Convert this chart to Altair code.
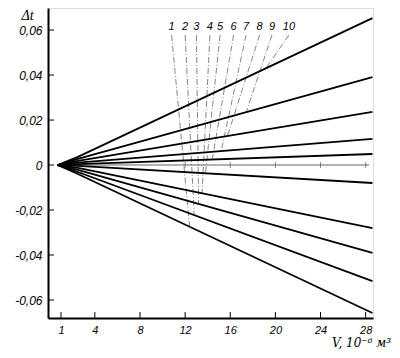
import altair as alt
import pandas as pd

# ---- data ----
line_ids = ["u1", "u2", "u3", "u4", "u5", "l1", "l2", "l3", "l4", "l5"]
apex_x = 0.7
split_x = 2.5
end_x = 28.6
start_y = [0.0036, 0.0027, 0.0018, 0.0011, 0.0004, -0.0004, -0.0013, -0.0022, -0.0031, -0.0040]
end_y = [0.0653, 0.0391, 0.0236, 0.0116, 0.0049, -0.0080, -0.0280, -0.0390, -0.0516, -0.0658]

guide_labels = ["1", "2", "3", "4", "5", "6", "7", "8", "9", "10"]
guide_top_x = [10.8, 12.0, 13.0, 14.2, 15.1, 16.3, 17.4, 18.6, 19.7, 21.2]
guide_top_y = 0.0578
guide_bottom_x = [12.4, 12.8, 13.2, 13.5, 13.8, 14.4, 15.2, 15.75, 17.4, 19.1]
guide_bottom_y = [-0.0273, -0.0221, -0.0172, -0.0125, -0.0037, 0.0024, 0.0062, 0.0128, 0.0233, 0.0425]
label_y = 0.0612

zero_line_x = [0.9, 28.3]
zero_ticks_x = [12, 16, 20, 24, 28]

x_ticks = [1, 4, 8, 12, 16, 20, 24, 28]
y_ticks = [-0.06, -0.04, -0.02, 0, 0.02, 0.04, 0.06]

x_domain = [-0.15, 28.65]
y_domain = [-0.068, 0.0698]

# ---- tables ----
rows = []
for i, lid in enumerate(line_ids):
    rows.append({"id": lid, "o": 0, "x": apex_x, "y": 0.0})
    rows.append({"id": lid, "o": 1, "x": split_x, "y": start_y[i]})
    rows.append({"id": lid, "o": 2, "x": end_x, "y": end_y[i]})
fan = pd.DataFrame(rows)

guides = pd.DataFrame({
    "lab": guide_labels,
    "x": guide_top_x,
    "y": [guide_top_y] * len(guide_labels),
    "x2": guide_bottom_x,
    "y2": guide_bottom_y,
    "ly": [label_y] * len(guide_labels),
})

zero_df = pd.DataFrame({"x": [zero_line_x[0]], "x2": [zero_line_x[1]], "y": [0.0]})
zero_ticks = pd.DataFrame({"x": zero_ticks_x, "y": [0.0] * len(zero_ticks_x)})
xt = pd.DataFrame({"v": x_ticks})
yt = pd.DataFrame({"v": y_ticks})

FONT = "Liberation Sans"

x_axis = alt.Axis(
    values=x_ticks, tickSize=0, labelPadding=6, grid=False,
    domainColor="black", domainWidth=2,
    labelFont=FONT, labelFontStyle="italic", labelFontSize=11, labelColor="black",
    title="V, 10⁻⁶ м³", titleX=313, titleY=24, titleAngle=0,
    titleAlign="center", titleBaseline="middle",
    titleFont="DejaVu Serif", titleFontStyle="italic", titleFontWeight="normal",
    titleFontSize=12, titleColor="black",
)
y_axis = alt.Axis(
    values=y_ticks, tickSize=0, labelPadding=6, grid=False,
    domainColor="black", domainWidth=2,
    labelFont=FONT, labelFontStyle="italic", labelFontSize=12, labelColor="black",
    labelExpr="datum.value == 0 ? '0' : replace(replace(format(datum.value, '.2f'), '.', ','), '−', '-')",
    title="Δt", titleX=-21, titleY=7, titleAngle=0,
    titleAlign="center", titleBaseline="middle",
    titleFont="Liberation Serif", titleFontStyle="italic", titleFontWeight="normal",
    titleFontSize=14, titleColor="black",
)

xs = alt.Scale(domain=x_domain, nice=False, zero=False)
ys = alt.Scale(domain=y_domain, nice=False, zero=False)


def X(f="x"):
    return alt.X(f"{f}:Q", scale=xs, axis=x_axis)


def Y(f="y"):
    return alt.Y(f"{f}:Q", scale=ys, axis=y_axis)


fan_layer = alt.Chart(fan).mark_line(color="black", strokeWidth=1.8).encode(
    x=X(), y=Y(), detail="id:N", order="o:Q"
)

zero_layer = alt.Chart(zero_df).mark_rule(color="#999999", strokeWidth=1.4).encode(
    x=X(), x2="x2:Q", y=Y()
)
zero_tick_layer = alt.Chart(zero_ticks).mark_tick(
    color="#555555", orient="vertical", size=6, thickness=1
).encode(x=X(), y=Y())

guide_layer = alt.Chart(guides).mark_rule(
    color="#666666", strokeWidth=0.8, strokeDash=[6, 2, 1, 2]
).encode(x=X(), y=Y(), x2="x2:Q", y2="y2:Q")

guide_text = alt.Chart(guides).mark_text(
    font=FONT, fontStyle="italic", fontSize=11, color="black", baseline="middle", align="center"
).encode(x=X(), y=Y("ly"), text="lab:N")

xtick_layer = alt.Chart(xt).mark_rule(color="black", strokeWidth=1).encode(
    x=X("v"), y=alt.value(310), y2=alt.value(304)
)
ytick_layer = alt.Chart(yt).mark_rule(color="black", strokeWidth=1).encode(
    y=Y("v"), x=alt.value(0), x2=alt.value(6)
)

chart = alt.layer(
    zero_layer, zero_tick_layer, guide_layer, fan_layer, guide_text, xtick_layer, ytick_layer
).properties(
    width=325, height=310,
    autosize=alt.AutoSizeParams(type="none"),
    padding={"left": 40, "top": 0, "right": 19, "bottom": 32},
).configure_view(stroke=None).configure(background="white")

chart.save("out.html", embed_options={"renderer": "svg", "actions": False})
